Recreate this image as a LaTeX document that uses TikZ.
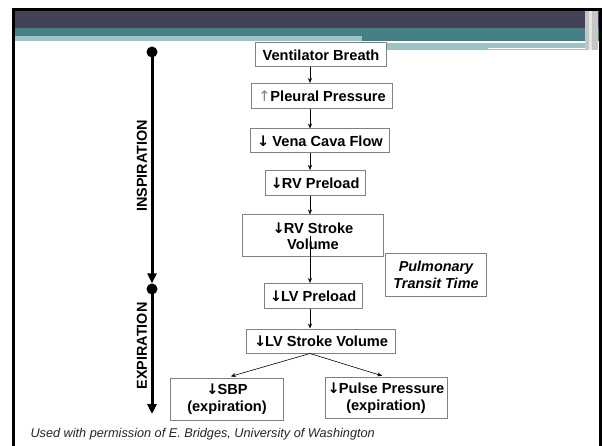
\documentclass[tikz,border=0pt]{standalone}
\usepackage{fontspec}
\setmainfont{Liberation Sans}
\newfontfamily\arrowfont{DejaVu Sans}
\usetikzlibrary{arrows.meta}

\definecolor{slidedark}{HTML}{434256}
\definecolor{slideteal}{HTML}{467F86}
\definecolor{slidelight}{HTML}{9CC3C4}
\definecolor{boxline}{HTML}{808080}

\newcommand{\dn}{{\arrowfont\bfseries ↓}\kern-1pt}
\newcommand{\upar}{{\arrowfont\mdseries\color{gray}↑}}

\tikzset{
  stepbox/.style={draw=boxline, line width=1pt, fill=white, align=center, inner sep=0pt,
    font=\bfseries\fontsize{14.6}{16.5}\selectfont},
  flow/.style={line width=0.6pt, -{Stealth[length=5pt,width=4pt]}},
  timeline/.style={line width=3pt, -{Triangle[length=10pt,width=9pt]}},
  tdot/.style={circle, fill=black, inner sep=0pt, minimum size=11pt},
  phase/.style={rotate=90, font=\bfseries\fontsize{14.4}{16}\selectfont}
}

\begin{document}
\begin{tikzpicture}[x=1pt,y=-1pt]
\useasboundingbox (0,0) rectangle (602,446);

%slide frame and title bands
\fill[black] (12,8) rectangle (602,446);
\fill[white] (15,11) rectangle (599,446);
\fill[slidedark] (15,11) rectangle (599,28);
\fill[slideteal] (15,28) rectangle (599,36);
\fill[slideteal] (362,36) rectangle (599,41);
\fill[slidelight] (15,36) rectangle (362,41);
\fill[slidelight] (362,43) rectangle (596,50);
\fill[white] (488,48) rectangle (596,49);
\fill[gray!45] (585,11) rectangle (598,50);
\fill[gray!20] (589,11) rectangle (592,50);

%time line
\node[tdot] (tin) at (152,52) {};
\node[tdot] (tmid) at (152,289) {};
\coordinate (tend) at (152,414);
\draw[timeline] (tin.center) -- (tmid.north);
\draw[timeline] (tmid.center) -- (tend);
\node[phase] (insp) at (142,166) {INSPIRATION};
\node[phase] (expi) at (142,346) {EXPIRATION};

%boxes
\coordinate (spine) at (310,0);
\node[stepbox, minimum width=131, minimum height=24] (vb) at (321,55) {Ventilator Breath};
\node[stepbox, minimum width=141, minimum height=25] (pp) at (322,96) {\upar Pleural Pressure};
\node[stepbox, minimum width=139, minimum height=24] (vc) at (320,141) {\dn\ Vena Cava Flow};
\node[stepbox, minimum width=100, minimum height=25] (rvp) at (315,183) {\dn RV Preload};
\node[stepbox, minimum width=141, minimum height=42] (rvsv) at (313,236) {\dn RV Stroke\\Volume};
\node[stepbox, minimum width=101, minimum height=43, font=\bfseries\itshape\fontsize{14.4}{16.5}\selectfont] (ptt) at (436,275) {Pulmonary\\Transit Time};
\node[stepbox, minimum width=98, minimum height=25] (lvp) at (313,296) {\dn LV Preload};
\node[stepbox, minimum width=149, minimum height=24] (lvsv) at (321,341) {\dn LV Stroke Volume};
\node[stepbox, minimum width=113, minimum height=42] (sbp) at (227,399) {\dn SBP\\(expiration)};
\node[stepbox, minimum width=122, minimum height=41] (pup) at (386,398) {\dn Pulse Pressure\\(expiration)};

%arrows
\draw[flow] (vb.south -| spine) -- (pp.north -| spine);
\draw[flow] (pp.south -| spine) -- (vc.north -| spine);
\draw[flow] (vc.south -| spine) -- (rvp.north -| spine);
\draw[flow] (rvp.south -| spine) -- (rvsv.north -| spine);
\draw[flow] (rvsv.center -| spine) -- (lvp.north -| spine);
\draw[flow] (lvp.south -| spine) -- (lvsv.north -| spine);
\draw[flow, shorten >=4pt] (lvsv.south -| spine) -- (sbp.north);
\draw[flow, shorten >=4pt] (lvsv.south -| spine) -- (pup.north);

%footer
\node[anchor=west, font=\itshape\fontsize{12.7}{14}\selectfont, text=black!85] (credit) at (27,434) {Used with permission of E. Bridges, University of Washington};
\end{tikzpicture}
\end{document}
